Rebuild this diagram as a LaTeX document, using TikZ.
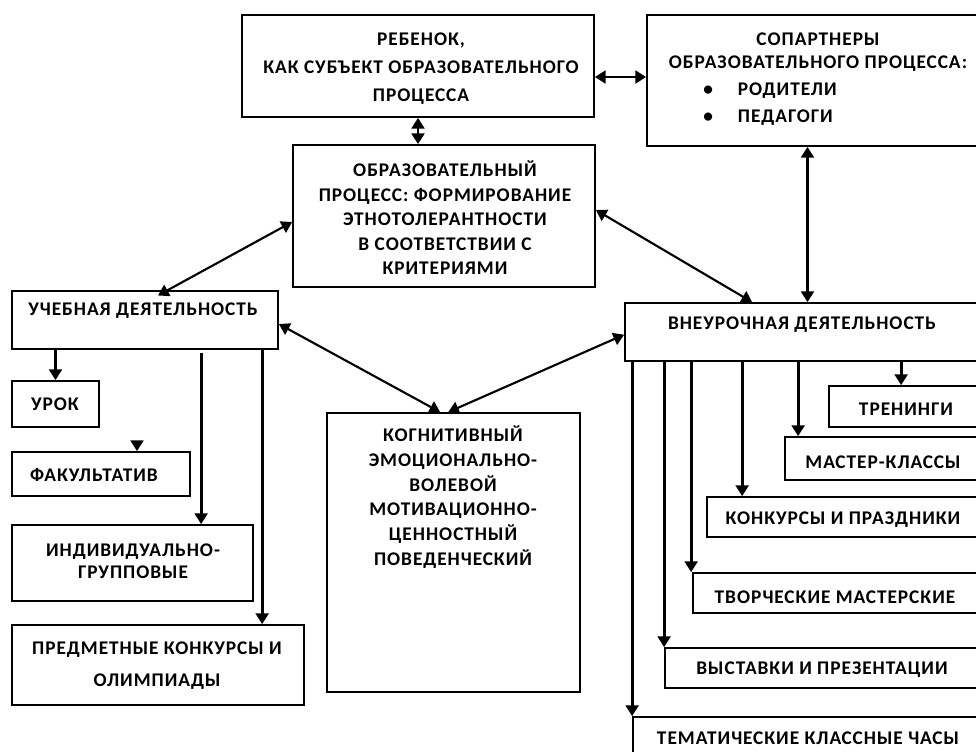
\documentclass[tikz,border=0pt]{standalone}
\usepackage{fontspec}
\setmainfont{Carlito}[LetterSpace=5]
\usetikzlibrary{arrows.meta}
\newcommand\pbox[5]{\node[boxs, minimum width={(#4-#2)*0.75pt}, minimum height={(#5-#3)*0.75pt}] (#1) at ({(#2+#4)/2},{(#3+#5)/2}) {};}
\tikzset{
  boxs/.style={draw, line width=1.3pt, inner sep=0pt, fill=white},
  txt/.style={font=\bfseries\fontsize{14.5}{18}\selectfont, align=center, inner sep=0pt},
  arr/.style={line width=2.4pt, -{Triangle[length=8pt,width=9.5pt]}},
  dbl/.style={line width=2pt, {Triangle[length=8pt,width=9.5pt]}-{Triangle[length=8pt,width=9.5pt]}},
}
\begin{document}
\begin{tikzpicture}[x=0.75pt,y=-0.75pt]
\path[use as bounding box] (0,0) rectangle (976,751);
\clip (0,0) rectangle (976,751);
\fill[white] (0,0) rectangle (976,751);
% boxes
\pbox{b1}{242}{15}{594}{117}
\pbox{b2}{647}{15}{990}{146}
\pbox{b3}{293}{145}{595}{287}
\pbox{ucheb}{12}{291}{278}{349}
\pbox{urok}{12}{381}{99}{427}
\pbox{fak}{12}{452}{190}{496}
\pbox{ind}{12}{525}{253}{601}
\pbox{pred}{12}{625}{304}{705}
\pbox{kog}{327}{413}{580}{692}
\pbox{vne}{625}{303}{990}{361}
\pbox{tren}{829}{386}{990}{427}
\pbox{mast}{785}{437}{990}{480}
\pbox{konk}{707}{497}{990}{537}
\pbox{tvor}{693}{573}{990}{613}
\pbox{vyst}{665}{648}{990}{688}
\pbox{tem}{633}{717}{990}{770}
% texts
\node[txt, font=\bfseries\fontsize{14.5}{21}\selectfont] (t1) at (421,69) {РЕБЕНОК,\\КАК СУБЪЕКТ ОБРАЗОВАТЕЛЬНОГО\\ПРОЦЕССА};
\node[txt, font=\bfseries\fontsize{14.5}{17}\selectfont] (t2) at (818,52) {СОПАРТНЕРЫ\\ОБРАЗОВАТЕЛЬНОГО ПРОЦЕССА:};
\node[txt, align=left, anchor=west, font=\bfseries\fontsize{14.5}{20}\selectfont] (t2b) at (703,104) {\makebox[26pt][l]{•}РОДИТЕЛИ\\\makebox[26pt][l]{•}ПЕДАГОГИ};
\node[txt, font=\bfseries\fontsize{14.5}{18.4}\selectfont] (t3) at (445,218) {ОБРАЗОВАТЕЛЬНЫЙ\\ПРОЦЕСС: ФОРМИРОВАНИЕ\\ЭТНОТОЛЕРАНТНОСТИ\\В СООТВЕТСТВИИ С\\КРИТЕРИЯМИ};
\node[txt] (t4) at (143,311) {УЧЕБНАЯ ДЕЯТЕЛЬНОСТЬ};
\node[txt] (t5) at (55,404) {УРОК};
\node[txt] (t6) at (94,475) {ФАКУЛЬТАТИВ};
\node[txt, font=\bfseries\fontsize{14.5}{16.5}\selectfont] (t7) at (133,561) {ИНДИВИДУАЛЬНО-\\ГРУППОВЫЕ};
\node[txt, font=\bfseries\fontsize{14.5}{24}\selectfont] (t8) at (157,666) {ПРЕДМЕТНЫЕ КОНКУРСЫ И\\ОЛИМПИАДЫ};
\node[txt, font=\bfseries\fontsize{14.5}{18.6}\selectfont] (t9) at (453,497) {КОГНИТИВНЫЙ\\ЭМОЦИОНАЛЬНО-\\ВОЛЕВОЙ\\МОТИВАЦИОННО-\\ЦЕННОСТНЫЙ\\ПОВЕДЕНЧЕСКИЙ};
\node[txt] (t10) at (802,325) {ВНЕУРОЧНАЯ ДЕЯТЕЛЬНОСТЬ};
\node[txt] (t11) at (906,409) {ТРЕНИНГИ};
\node[txt] (t12) at (883,462) {МАСТЕР-КЛАССЫ};
\node[txt] (t13) at (843,520) {КОНКУРСЫ И ПРАЗДНИКИ};
\node[txt] (t14) at (835,597) {ТВОРЧЕСКИЕ МАСТЕРСКИЕ};
\node[txt] (t15) at (822,670) {ВЫСТАВКИ И ПРЕЗЕНТАЦИИ};
\node[txt] (t16) at (808,738) {ТЕМАТИЧЕСКИЕ КЛАССНЫЕ ЧАСЫ};
% connectors
\draw[dbl] ([yshift=-8.25pt]b1.east) -- ([yshift=-8.25pt]b1.east -| b2.west);
\draw[dbl] (b1.south) -- (b1.south |- b3.north);
\draw[dbl, line width=1.6pt] ([yshift=-4.5pt]b3.west) -- ([xshift=9.75pt, yshift=-4pt]ucheb.north);
\draw[dbl, line width=1.6pt] ([yshift=4.5pt]b3.east) -- ([xshift=96pt]vne.north west);
\draw[dbl, line width=2.4pt] (vne.north) -- (vne.north |- b2.south);
\draw[dbl, line width=1.6pt] ([yshift=-3pt]ucheb.east) -- ([xshift=-10pt]kog.north);
\draw[dbl, line width=1.6pt] ([yshift=-2pt]vne.west) -- ([xshift=-4pt]kog.north);
\draw[arr] (ucheb.south -| urok.north) -- (urok.north);
\coordinate (fakin) at (137,441);
\draw[arr] (fakin) -- (fakin |- fak.north);
\draw[arr] ([xshift=142.5pt, yshift=-2pt]ucheb.south west) -- ([xshift=142.5pt]ucheb.south west |- ind.north);
\draw[arr] ([xshift=188.25pt]ucheb.south west) -- ([xshift=188.25pt]ucheb.south west |- pred.north);
\draw[arr] ([xshift=207.75pt]vne.south west) -- ([xshift=207.75pt]vne.south west |- tren.north);
\draw[arr] ([xshift=130.5pt]vne.south west) -- ([xshift=130.5pt]vne.south west |- mast.north);
\draw[arr] ([xshift=88.5pt]vne.south west) -- ([xshift=88.5pt]vne.south west |- konk.north);
\draw[arr] ([xshift=50.25pt]vne.south west) -- ([xshift=50.25pt]vne.south west |- tvor.north);
\draw[arr] ([xshift=30pt]vne.south west) -- ([xshift=30pt]vne.south west |- vyst.north);
\draw[arr] ([xshift=6pt]vne.south west) -- ([xshift=6pt]vne.south west |- tem.north);
\end{tikzpicture}
\end{document}
